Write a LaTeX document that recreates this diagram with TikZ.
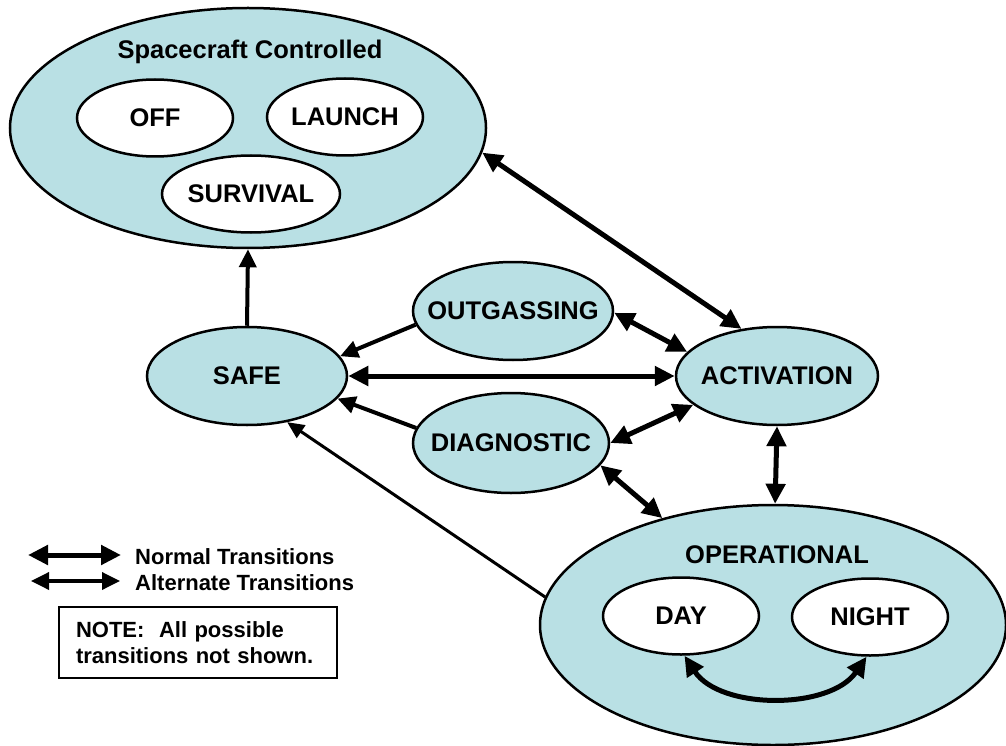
\documentclass[tikz,border=0pt]{standalone}
\usepackage{fontspec}
\setmainfont{Liberation Sans}
\usetikzlibrary{arrows.meta,shapes.geometric}
\definecolor{statefill}{RGB}{185,224,228}
\tikzset{
  x=1pt,y=-1pt,
  labfont/.style={font=\fontsize{25.5}{28}\selectfont\bfseries,inner sep=0pt},
  bigstate/.style={ellipse,draw,line width=2.5pt,fill=statefill,inner sep=0pt},
  state/.style={ellipse,draw,line width=2.5pt,fill=statefill,inner sep=0pt,
    label={[labfont]center:#1}},
  substate/.style={ellipse,draw,line width=2.5pt,fill=white,inner sep=0pt,
    minimum width=156pt,minimum height=77pt,label={[labfont]center:#1}},
  title/.style={labfont},
  normal/.style={line width=5pt,{Triangle[length=20pt,width=19pt]}-{Triangle[length=20pt,width=19pt]}},
  alt/.style={line width=4pt,-{Triangle[length=18pt,width=17pt]}},
  thinalt/.style={line width=3pt,-{Triangle[length=17pt,width=15pt]}},
  legend/.style={font=\fontsize{22}{26}\selectfont\bfseries,inner sep=0pt,anchor=west}
}
\begin{document}
\begin{tikzpicture}
\useasboundingbox (0,0) rectangle (1006,746);
% big container states
\node[bigstate,minimum width=476pt,minimum height=240pt] (SC) at (248,128) {};
\node[title] (SCt) at (250,52) {Spacecraft Controlled};
\node[substate=OFF] (OFF) at (155,118) {};
\node[substate=LAUNCH] (LAUNCH) at (345,117) {};
\node[substate=SURVIVAL,minimum width=178pt] (SURV) at (251,194) {};

\node[bigstate,minimum width=466pt,minimum height=240pt] (OP) at (773,625) {};
\node[title] (OPt) at (777,555) {OPERATIONAL};
\node[substate=DAY] (DAY) at (681,616) {};
\node[substate=NIGHT] (NIGHT) at (870,617) {};

% middle states
\node[state=SAFE,minimum width=200pt,minimum height=98pt] (SAFE) at (247,376) {};
\node[state=ACTIVATION,minimum width=202pt,minimum height=98pt] (ACT) at (777,376) {};
\node[state=OUTGASSING,minimum width=200pt,minimum height=98pt] (OUT) at (513,311) {};
\node[state=DIAGNOSTIC,minimum width=196pt,minimum height=100pt] (DIAG) at (511,443) {};

% transitions
\draw[normal] (SC.-6) -- (ACT.127.6);
\draw[alt] (SAFE.90) -- (SC.270);
\draw[alt] (OUT.188) -- (SAFE.12.7);
\draw[alt] (DIAG.171) -- (SAFE.-14);
\draw[normal] (SAFE.0) -- (ACT.180);
\draw[normal] (OUT.-1) -- (ACT.165);
\draw[normal] (DIAG.0) -- (ACT.199);
\draw[normal] (DIAG.-14) -- (OP.136);
\draw[normal] (ACT.270) -- (OP.89);
\draw[thinalt] (OP.173) -- (SAFE.-49);
\draw[normal] (DAY.-85) .. controls (720,710) and (830,710) .. (NIGHT.-95);

% legend
\coordinate (l1a) at (28,555);
\coordinate (l1b) at (121,555);
\coordinate (l2a) at (31,581);
\coordinate (l2b) at (120,581);
\draw[normal] (l1a) -- (l1b);
\draw[line width=3.5pt,{Triangle[length=18pt,width=17pt]}-{Triangle[length=18pt,width=17pt]}] (l2a) -- (l2b);
\node[legend] (leg1) at (135,557) {Normal Transitions};
\node[legend] (leg2) at (135,583) {Alternate Transitions};
\node[draw,line width=2.5pt,minimum width=278pt,minimum height=71pt,inner xsep=17pt,
  text width=244pt,align=left,font=\fontsize{22}{26}\selectfont\bfseries] (note) at (198,642.5)
  {NOTE:\ \ All possible\\transitions not shown.};
\end{tikzpicture}
\end{document}
